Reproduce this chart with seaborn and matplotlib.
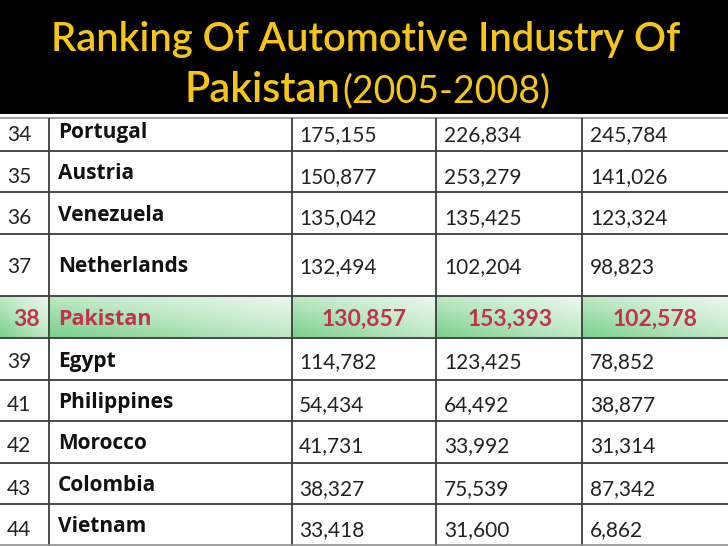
"""
Ranking table of the automotive industry, drawn as a seaborn heatmap.
Run: python plot.py
"""

import matplotlib.pyplot as plt
import numpy as np
import seaborn as sns
from matplotlib.colors import LinearSegmentedColormap

ranks = ["34", "35", "36", "37", "38", "39", "41", "42", "43", "44"]
countries = ["Portugal", "Austria", "Venezuela", "Netherlands", "Pakistan",
             "Egypt", "Philippines", "Morocco", "Colombia", "Vietnam"]
col_a = ["175,155", "150,877", "135,042", "132,494", "130,857",
         "114,782", "54,434", "41,731", "38,327", "33,418"]
col_b = ["226,834", "253,279", "135,425", "102,204", "153,393",
         "123,425", "64,492", "33,992", "75,539", "31,600"]
col_c = ["245,784", "141,026", "123,324", "98,823", "102,578",
         "78,852", "38,877", "31,314", "87,342", "6,862"]
highlight_row = "Pakistan"

W, H = 728, 546
TABLE_TOP = 114
ROW_EDGES = [118, 151, 192, 234, 296, 338, 380, 421, 463, 504, 546]
COL_EDGES = [0, 49, 292, 436, 582, 728]
NAME_BASE = [138, 179, 221, 272, 325, 367, 408, 449, 491, 532]
NUM_BASE = [141, 183, 224, 273, 326, 368, 411, 452, 495, 536]
NUM_X = [7, 299, 444, 590]
HI_X = [13, 322, 468, 613]

RED = "#c0334a"
GOLD = "#f5c518"
LINE = "#3c3c3c"

sns.set_theme(style="white")
plt.rcParams["font.family"] = ["Lato", "DejaVu Sans"]

# heatmap cells are one pixel each, the highlighted row gets a diagonal shade
# and everything else sits below the colormap range (white)
cells = np.full((H - TABLE_TOP, W), -1.0)
i_hi = countries.index(highlight_row)
r0, r1 = ROW_EDGES[i_hi], ROW_EDGES[i_hi + 1]
for x0, x1 in zip(COL_EDGES[:-1], COL_EDGES[1:]):
    cells[r0 - TABLE_TOP:r1 - TABLE_TOP, x0:x1] = np.add.outer(
        np.linspace(1, 0, r1 - r0), np.linspace(0, 1, x1 - x0)) / 2

shade = LinearSegmentedColormap.from_list("row", ["#78cf8b", "#bde7c4", "#edf8ef"])
shade.set_under("white")

fig = plt.figure(figsize=(W / 100, H / 100), dpi=100, facecolor="black")
ax = fig.add_axes([0, 0, 1, (H - TABLE_TOP) / H])
sns.heatmap(cells, ax=ax, cmap=shade, vmin=0, vmax=1, cbar=False,
            xticklabels=False, yticklabels=False)
ax.set_ylim(H - TABLE_TOP, 0)

# axis units are pixels below the top of the table
top = [e - TABLE_TOP for e in ROW_EDGES]
ax.hlines(top[1:-1], 0, W, color=LINE, lw=1.3)
ax.hlines([top[0]], 0, W, color="#8f8f8f", lw=1.2)
ax.vlines(COL_EDGES[1:-1], top[0], H - TABLE_TOP, color=LINE, lw=1.3)
ax.hlines([H - TABLE_TOP - 1], 0, W, color="#8f8f8f", lw=1.2)

for i, name in enumerate(countries):
    values = [ranks[i], col_a[i], col_b[i], col_c[i]]
    if name == highlight_row:
        ax.text(58, NAME_BASE[i] - TABLE_TOP, name, color=RED, fontsize=15.5,
                fontweight="bold", family="Open Sans", va="baseline")
        for x, val in zip(HI_X, values):
            ax.text(x, NUM_BASE[i] - TABLE_TOP, val, color=RED, fontsize=16.5,
                    fontweight="bold", va="baseline")
    else:
        ax.text(58, NAME_BASE[i] - TABLE_TOP, name, color="#111111", fontsize=15,
                fontweight="bold", family="Open Sans", va="baseline")
        for x, val in zip(NUM_X, values):
            ax.text(x, NUM_BASE[i] - TABLE_TOP, val, color="#222222", fontsize=15,
                    va="baseline")

fig.text(366 / W, 1 - 39 / H, "Ranking Of Automotive Industry Of", color=GOLD,
         fontsize=28.7, fontweight="semibold", ha="center", va="center")
fig.text(185 / W, 1 - 102 / H, "Pakistan", color=GOLD,
         fontsize=30, fontweight="semibold", ha="left", va="baseline")
fig.text(342 / W, 1 - 102 / H, "(2005-2008)", color=GOLD,
         fontsize=27, ha="left", va="baseline")

fig.savefig("out.png", dpi=100, facecolor="black")
plt.close(fig)
